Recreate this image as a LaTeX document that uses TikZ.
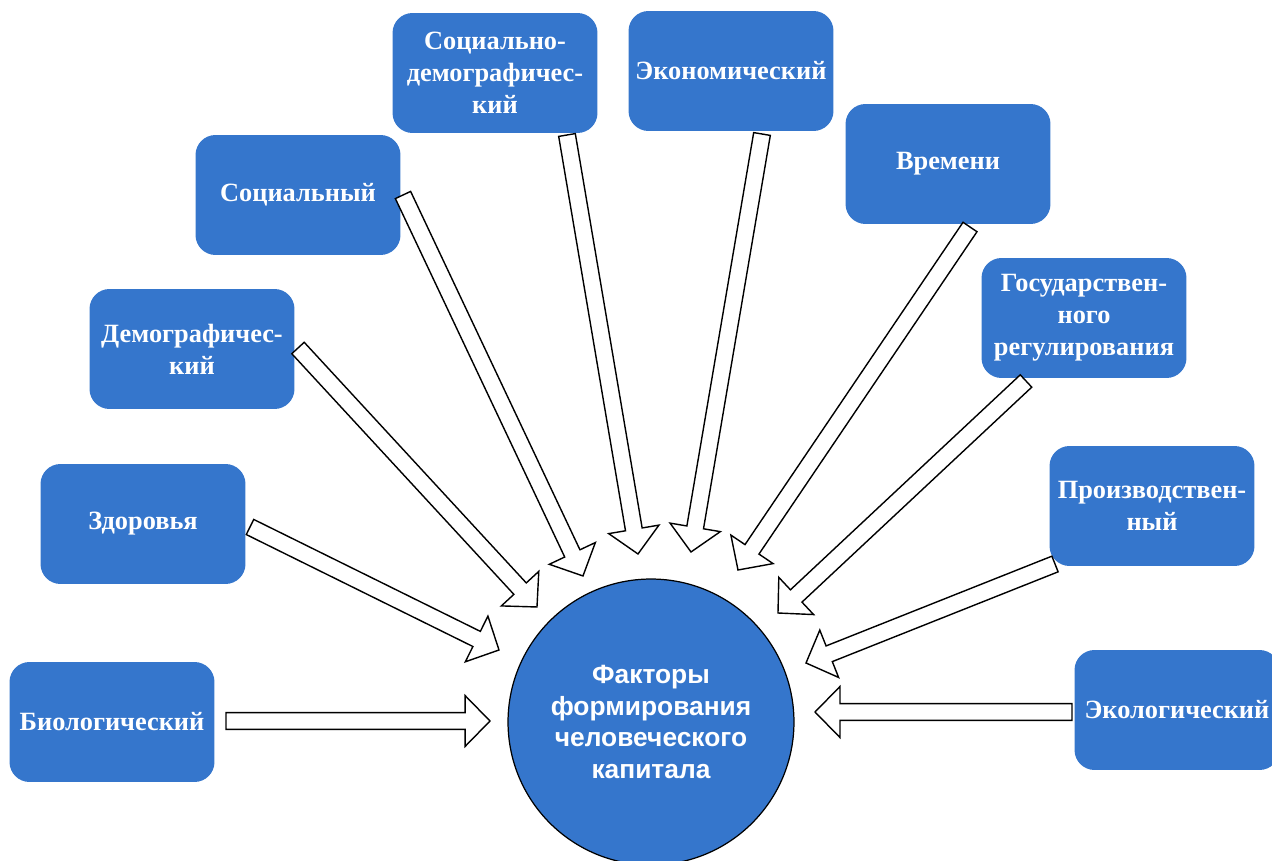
\documentclass[tikz,border=0pt]{standalone}
\usepackage{fontspec}
\setmainfont{Liberation Serif}
\newfontfamily\circfont{Liberation Sans}
\usetikzlibrary{calc}

\definecolor{boxblue}{RGB}{53,118,204}

% hollow block arrow from #1 (tail) to #2 (tip)
\newcommand{\factorarrow}[2]{%
  \draw[hollow] let \p1=(#1), \p2=(#2),
      \n1={atan2(\y2-\y1,\x2-\x1)}, \n2={veclen(\x2-\x1,\y2-\y1)} in
    [shift={(\p1)}, rotate=\n1]
    (0pt,4.8pt) -- ({\n2-14.2pt},4.8pt) -- ({\n2-14.2pt},14.5pt) -- ({\n2},0pt)
    -- ({\n2-14.2pt},-14.5pt) -- ({\n2-14.2pt},-4.8pt) -- (0pt,-4.8pt) -- cycle;
}

\begin{document}
\begin{tikzpicture}[x=0.02cm, y=-0.02cm,
                    factor/.style={fill=boxblue, rounded corners=0.4cm, minimum width=4.1cm,
                                   minimum height=2.4cm, text=white, align=center,
                                   font=\fontsize{15}{18.2}\selectfont\bfseries},
                    hollow/.style={draw=black, fill=white, line width=0.8pt, line join=miter}]

  \useasboundingbox (0,0) rectangle (1272,861);

  \node[factor] at (112,722)   (bio)    {Биологический};
  \node[factor] at (143,524)   (zdor)   {Здоровья};
  \node[factor] at (192,349)   (dem)    {Демографичес-\\кий};
  \node[factor] at (298,195)   (soc)    {Социальный};
  \node[factor] at (495,73)    (sdem)   {Социально-\\демографичес-\\кий};
  \node[factor] at (731,71)    (econ)   {Экономический};
  \node[factor] at (948,164)   (vrem)   {Времени};
  \node[factor] at (1084,318)  (gos)    {Государствен-\\ного\\регулирования};
  \node[factor] at (1152,506)  (proizv) {Производствен-\\ный};
  \node[factor] at (1177,710)  (eko)    {Экологический};

  \node[circle, draw, line width=0.7pt, fill=boxblue, minimum size=5.72cm, inner sep=0pt,
        text=white, align=center, font=\circfont\fontsize{15}{18.2}\selectfont\bfseries]
        at (651,722) (fc) {Факторы\\формирования\\человеческого\\капитала};

  % tails and tips of the arrows
  \coordinate (bio-a)    at (226,721);   \coordinate (bio-b)    at (490,721);
  \coordinate (zdor-a)   at (250,527);   \coordinate (zdor-b)   at (499,650);
  \coordinate (dem-a)    at (298,348);   \coordinate (dem-b)    at (537,607);
  \coordinate (soc-a)    at (403,195);   \coordinate (soc-b)    at (583,576);
  \coordinate (sdem-a)   at (567,135);   \coordinate (sdem-b)   at (638,554);
  \coordinate (econ-a)   at (762,134);   \coordinate (econ-b)   at (691,552);
  \coordinate (vrem-a)   at (970,227);   \coordinate (vrem-b)   at (738,570);
  \coordinate (gos-a)    at (1026,381);  \coordinate (gos-b)    at (778,613);
  \coordinate (proizv-a) at (1055,564);  \coordinate (proizv-b) at (806,663);
  \coordinate (eko-a)    at (1072,712);  \coordinate (eko-b)    at (815,712);

  \foreach \f in {bio,zdor,dem,soc,sdem,econ,vrem,gos,proizv,eko}
    \factorarrow{\f-a}{\f-b};

\end{tikzpicture}
\end{document}
